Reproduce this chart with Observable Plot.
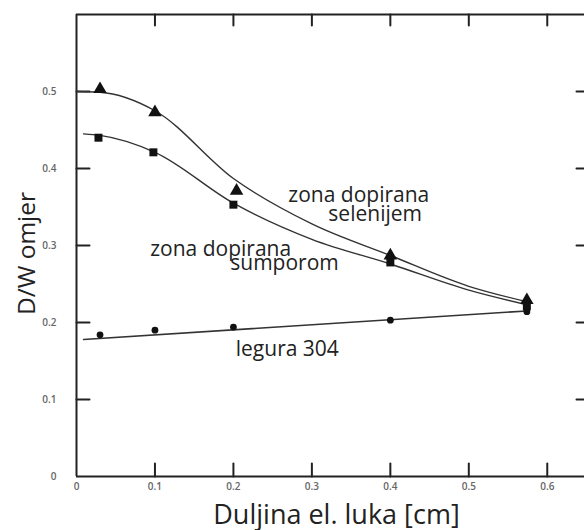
<!DOCTYPE html>
<html>
<head>
<meta charset="utf-8">
<script src="https://cdn.jsdelivr.net/npm/d3@7"></script>
<script src="https://cdn.jsdelivr.net/npm/@observablehq/plot@0.6"></script>
<style>
  html, body { margin: 0; padding: 0; background: #fff; overflow: hidden; }
</style>
</head>
<body>
<div id="chart"></div>
<script>
// Tick values
const xTicks = [0.1, 0.2, 0.3, 0.4, 0.5, 0.6];
const yTicks = [0.1, 0.2, 0.3, 0.4, 0.5];
const xTickLabels = [0, 0.1, 0.2, 0.3, 0.4, 0.5, 0.6];
const yTickLabels = [0, 0.1, 0.2, 0.3, 0.4, 0.5];

// Measured points
const seleniumX = [0.03, 0.1, 0.204, 0.4, 0.574];
const seleniumY = [0.503, 0.473, 0.371, 0.287, 0.229];
const sulfurX = [0.028, 0.098, 0.2, 0.4, 0.574];
const sulfurY = [0.44, 0.421, 0.353, 0.278, 0.221];
const alloyX = [0.03, 0.1, 0.2, 0.4, 0.574];
const alloyY = [0.184, 0.19, 0.194, 0.203, 0.214];

// Fitted curves
const seleniumCurveX = [0, 0.03, 0.1, 0.2, 0.3, 0.4, 0.5, 0.574];
const seleniumCurveY = [0.5, 0.499, 0.475, 0.387, 0.328, 0.287, 0.247, 0.227];
const sulfurCurveX = [0.009, 0.03, 0.1, 0.2, 0.3, 0.4, 0.5, 0.574];
const sulfurCurveY = [0.445, 0.443, 0.421, 0.355, 0.308, 0.276, 0.242, 0.223];
const alloyCurveX = [0.009, 0.574];
const alloyCurveY = [0.178, 0.215];

// Annotations
const noteText = ["zona dopirana", "selenijem", "zona dopirana", "sumporom", "legura 304"];
const noteX = [0.27, 0.321, 0.094, 0.196, 0.203];
const noteY = [0.357, 0.332, 0.286, 0.268, 0.157];

const xTitle = "Duljina el. luka [cm]";
const yTitle = "D/W omjer";

const zip = (xs, ys) => xs.map((x, i) => ({x, y: ys[i]}));
const notes = noteText.map((t, i) => ({t, x: noteX[i], y: noteY[i]}));
const fmt = d => d === 0 ? "0" : d.toFixed(1);
const ink = "#222";

// layout constants (pixels)
const W = 584, H = 530, mL = 76, mT = 14, mB = 54, xEndPx = 586;
const xDomain = [0, 0.65], yDomain = [0, 0.6];
const pxPerX = (xEndPx - mL) / (xDomain[1] - xDomain[0]);
const pxPerY = (H - mB - mT) / (yDomain[1] - yDomain[0]);
const tickLen = (px, per) => px / per; // tick length in data units

// each tick as a two-point segment, grouped by id
const tickSegs = [];
yTicks.forEach(v => {
  tickSegs.push({id: "l" + v, x: xDomain[0], y: v}, {id: "l" + v, x: xDomain[0] + tickLen(13, pxPerX), y: v});
  tickSegs.push({id: "r" + v, x: xDomain[1] - tickLen(10, pxPerX), y: v}, {id: "r" + v, x: xDomain[1], y: v});
});
xTicks.forEach(v => {
  tickSegs.push({id: "t" + v, x: v, y: yDomain[1]}, {id: "t" + v, x: v, y: yDomain[1] - tickLen(11, pxPerY)});
  tickSegs.push({id: "b" + v, x: v, y: yDomain[0]}, {id: "b" + v, x: v, y: yDomain[0] + tickLen(13, pxPerY)});
});

const chart = Plot.plot({
  width: W,
  height: H,
  marginLeft: mL,
  marginRight: 0,
  marginTop: mT,
  marginBottom: mB,
  style: {fontFamily: "'Open Sans', sans-serif", background: "#fff"},
  x: {domain: xDomain, range: [mL, xEndPx]},
  y: {domain: yDomain},
  marks: [
    // tick labels
    Plot.axisX({ticks: xTickLabels, tickSize: 0, tickPadding: 6, tickFormat: fmt, label: null,
      fontSize: 10, fontWeight: 600, fill: "#666"}),
    Plot.axisY({ticks: yTickLabels, tickSize: 0, tickPadding: 20, tickFormat: fmt, label: null,
      fontSize: 10, fontWeight: 600, fill: "#666"}),
    // inward ticks
    Plot.line(tickSegs, {x: "x", y: "y", z: "id", stroke: ink, strokeWidth: 2}),
    // frame (left, bottom, top)
    Plot.ruleX([0], {stroke: ink, strokeWidth: 2}),
    Plot.ruleY([0, 0.6], {stroke: ink, strokeWidth: 2}),
    // curves
    Plot.line(zip(seleniumCurveX, seleniumCurveY), {x: "x", y: "y", curve: "monotone-x", stroke: "#333", strokeWidth: 1.4}),
    Plot.line(zip(sulfurCurveX, sulfurCurveY), {x: "x", y: "y", curve: "monotone-x", stroke: "#333", strokeWidth: 1.4}),
    Plot.line(zip(alloyCurveX, alloyCurveY), {x: "x", y: "y", stroke: "#333", strokeWidth: 1.6}),
    // markers
    Plot.dot(zip(seleniumX, seleniumY), {x: "x", y: "y", symbol: "triangle", r: 5, fill: "#111"}),
    Plot.dot(zip(sulfurX, sulfurY), {x: "x", y: "y", symbol: "square", r: 4.5, fill: "#111"}),
    Plot.dot(zip(alloyX, alloyY), {x: "x", y: "y", r: 3.4, fill: "#111"}),
    // annotations
    Plot.text(notes, {x: "x", y: "y", text: "t", textAnchor: "start", lineAnchor: "bottom",
      fontSize: 21, fill: ink}),
    // axis titles
    Plot.text([xTitle], {frameAnchor: "bottom", textAnchor: "middle", lineAnchor: "bottom", dy: 47, dx: 6,
      fontSize: 27, fill: ink}),
    Plot.text([yTitle], {frameAnchor: "left", textAnchor: "middle", lineAnchor: "bottom", rotate: -90, dx: -42, dy: 8,
      fontSize: 24.5, fill: ink})
  ]
});
document.getElementById("chart").appendChild(chart);
</script>
</body>
</html>
